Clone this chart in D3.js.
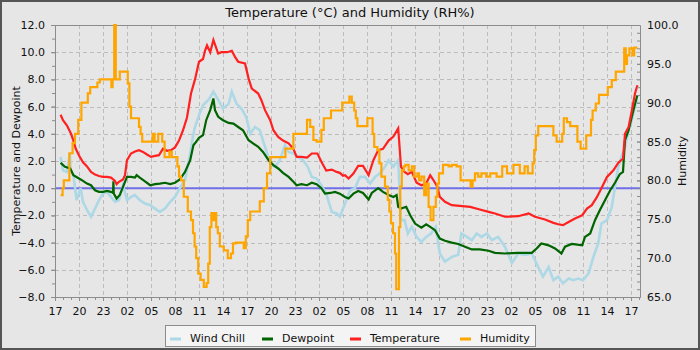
<!DOCTYPE html>
<html>
<head>
<meta charset="utf-8">
<script src="https://cdn.jsdelivr.net/npm/d3@7"></script>
<style>
  html, body { margin: 0; padding: 0; background: #e6e6e6; }
  svg { display: block; font-family: "DejaVu Sans", sans-serif; }
</style>
</head>
<body>
<svg id="chart" width="700" height="350"></svg>
<script>
// Hours elapsed since the first 17:00 tick, and readings per series.
const startHour = 17;
const xTickHours = d3.range(0, 73, 3);

const tempHours = [0.7,1.0,1.5,2.0,2.3,2.6,3.0,3.5,4.0,4.5,5.0,5.5,6.0,6.5,7.0,7.5,7.7,8.0,8.5,8.75,9.0,9.5,10,10.5,11,11.5,12,12.5,13,13.5,14,14.5,15,15.5,16,16.5,17,17.5,18,18.5,18.75,19,19.4,19.8,20.4,20.8,21.5,22.1,22.5,22.9,23.75,24.2,24.6,25.4,25.8,26.25,26.9,27.3,27.9,28.5,29.2,29.8,30.2,30.8,31.5,32.1,32.8,33.3,33.9,34.6,35.2,35.6,36.0,36.25,36.7,37.3,37.9,38.5,39.2,39.8,40.4,41.0,41.7,42.3,42.9,43.1,43.25,43.7,44.1,44.6,45.2,45.8,46.4,46.9,47.3,47.8,48.1,48.75,49.6,50.6,51.9,53.1,54.2,55.0,56.25,57.9,59.2,60.0,61.25,62.3,62.9,63.5,64.2,65.0,65.9,66.5,67.1,67.75,68.3,69.0,69.8,70.4,71.0,71.25,71.7,72.1,72.5,72.8];
const tempValues = [5.4,5.0,4.6,4.0,3.5,2.9,2.4,1.9,1.6,1.2,1.0,0.9,0.83,0.83,0.78,0.54,0.3,0.47,0.64,0.96,2.06,2.55,2.7,2.8,2.67,2.48,2.3,2.38,2.43,2.9,2.75,2.8,3.0,3.5,4.26,5.2,6.96,8.0,9.3,9.5,10.1,10.5,10.0,10.9,9.9,10.0,10.0,10.1,9.66,9.3,9.17,8.06,7.33,6.96,6.47,5.74,5.0,4.26,3.77,3.5,3.3,2.9,2.3,2.3,2.25,2.55,2.55,1.94,1.3,1.37,1.2,1.13,0.92,0.96,0.71,1.08,1.64,1.64,0.96,2.06,2.8,2.9,3.5,3.8,4.4,2.8,1.57,1.2,1.03,1.2,0.4,0.22,0.34,0.96,0.6,0.1,-0.64,-1.0,-1.25,-1.3,-1.37,-1.57,-1.74,-1.86,-2.1,-2.06,-1.86,-2.1,-2.3,-2.55,-2.65,-2.72,-2.48,-2.23,-1.99,-1.5,-1.25,-0.64,0.0,0.83,1.32,1.86,2.18,4.0,4.5,5.7,6.96,7.57];

const dewHours = [0.7,1.25,1.9,2.3,3.0,3.5,4.0,4.5,5.0,5.5,6.0,6.5,7.0,7.25,7.3,7.35,7.7,8.1,8.5,9.0,9.5,10,10.2,10.6,11.25,11.9,12.5,13.1,13.75,14.4,15,15.6,16.25,16.9,17.3,17.5,18.0,18.5,18.9,19.4,19.8,20.0,20.4,21.0,21.7,22.3,22.9,23.5,24.2,24.8,25.4,26.0,26.7,27.3,27.9,28.5,29.2,29.8,30.2,30.8,31.5,32.1,32.7,33.3,33.75,34.4,35.0,35.6,36.25,36.7,37.3,37.9,38.5,39.2,39.6,40.4,41.0,41.7,42.3,42.7,42.9,43.25,43.9,44.4,45.0,45.8,46.4,46.9,47.5,48.1,48.75,49.6,50.4,51.25,52.1,53.1,54.2,55,56.25,57.9,59.6,60.2,60.8,61.7,62.5,63.3,63.75,64.6,65.9,66.25,66.9,67.5,68.1,68.75,69.4,70.0,70.6,71.0,71.25,71.7,72.1,72.5,72.8];
const dewValues = [1.86,1.57,1.45,0.96,0.71,0.54,0.34,0.22,-0.15,-0.27,-0.27,-0.2,-0.27,-0.35,0.5,-0.4,-0.76,-0.5,0.1,0.83,0.83,0.78,0.96,0.78,0.51,0.22,0.3,0.34,0.4,0.3,0.4,0.64,1.2,2.06,3.16,3.3,3.7,3.9,5.0,5.74,6.6,5.74,5.25,5.0,4.8,4.75,4.5,4.26,3.53,3.28,3.04,2.67,2.06,1.7,1.45,1.13,0.83,0.47,0.22,0.3,0.22,0.4,0.3,0.0,-0.4,-0.35,-0.27,-0.4,-0.64,-0.76,-0.4,-0.2,-0.35,-0.83,-0.35,0.0,-0.27,-0.5,-0.64,-0.5,-1.37,-1.5,-1.37,-1.99,-2.6,-2.9,-2.65,-2.84,-3.09,-3.7,-3.87,-4.0,-4.1,-4.3,-4.5,-4.5,-4.6,-4.75,-4.8,-4.75,-4.75,-4.43,-4.07,-4.2,-4.43,-4.8,-4.3,-4.1,-4.2,-3.58,-3.33,-2.35,-1.62,-0.88,-0.15,0.4,1.03,1.2,3.53,4.26,5.25,6.2,6.84];

const chillHours = [0.7,1.0,1.5,1.85,1.95,2.3,2.7,3.2,3.5,4.0,4.5,5.0,5.5,6.0,6.5,7.0,7.5,8.0,8.5,9.0,9.5,10,10.6,11.25,11.9,12.5,13.1,13.75,14.4,15,15.6,16.25,16.9,17.3,17.5,18.0,18.5,19.2,19.8,20.4,21.0,21.7,22.1,22.7,23.3,23.9,24.4,25.0,25.6,26.25,26.9,27.5,28.1,28.75,29.2,29.8,30.4,31.0,31.6,32.1,32.7,33.3,33.9,34.6,35.2,35.6,36.25,36.9,37.5,38.1,38.75,39.4,40.0,40.6,41.25,41.7,42.3,42.9,43.1,43.25,43.7,44.1,44.6,45.2,45.8,46.4,47.0,47.6,48.1,48.75,49.6,50.4,50.8,51.5,52.1,52.7,53.3,54.0,54.6,55.4,56.25,57.1,57.9,58.75,59.6,60.4,61.0,61.7,62.3,62.9,63.5,64.2,64.8,65.4,66.0,66.7,67.3,67.9,68.3,69.0,69.6,70.0,70.4,70.8,71.25,71.7,72.1,72.5,72.8];
const chillValues = [2.3,1.32,1.2,2.55,1.4,0.96,-0.88,0.0,-1.0,-1.6,-2.1,-1.5,-0.88,-0.4,-0.27,-0.64,-1.0,-0.88,0.22,-0.88,-0.64,-0.5,-0.88,-1.13,-1.25,-1.5,-1.74,-1.5,-1.0,-0.64,0.0,0.6,2.55,4.0,4.5,5.37,6.1,6.5,7.1,6.5,5.86,6.2,7.1,6.2,5.86,5.25,4.0,4.5,4.26,3.04,1.81,1.57,2.06,3.16,2.67,2.55,2.3,2.06,1.57,0.83,0.71,0.22,-0.4,-1.74,-1.86,-2.1,-1.13,-0.15,0.0,0.83,0.83,0.34,0.83,1.08,1.57,2.06,1.57,2.06,-0.4,-2.35,-2.35,-3.33,-2.84,-3.58,-3.95,-3.58,-3.33,-2.84,-4.8,-5.4,-5.05,-4.9,-3.33,-3.58,-3.82,-3.33,-3.58,-3.33,-3.82,-3.58,-4.3,-5.5,-4.8,-4.9,-4.8,-5.8,-6.5,-5.8,-6.76,-6.5,-7.0,-6.64,-6.76,-6.64,-6.76,-6.27,-5.05,-4.07,-2.6,-2.35,-1.37,0.1,1.57,2.3,3.04,4.26,5.0,6.0,6.47];

const humHours = [0.7,0.95,1.1,1.8,2.2,2.5,2.9,3.3,4.1,4.4,5.3,5.6,7.05,7.2,7.4,7.6,8.1,9.1,9.3,9.5,10.5,10.7,10.9,12.2,12.45,12.9,13.4,13.7,14.3,14.6,15.3,15.5,15.75,16.1,16.6,17.0,17.25,17.45,17.65,17.9,18.2,18.6,18.95,19.15,19.35,19.55,19.75,19.95,20.15,20.35,20.6,21.1,21.6,22.0,22.25,22.6,23.6,23.85,24.1,24.4,25.6,26.1,26.5,26.9,28.8,29.8,31.5,31.9,32.3,32.7,33.3,33.6,34.5,35.9,36.8,37.1,37.4,37.6,37.8,39.05,39.7,39.9,40.3,40.55,40.8,41.25,41.6,41.8,42.0,42.25,42.5,42.65,43.0,43.15,43.35,43.6,43.8,44.2,44.6,44.9,45.3,45.5,45.8,46.15,46.4,46.7,46.95,47.3,47.6,47.8,48.0,48.5,49.2,49.6,50.2,50.7,51.95,52.2,52.5,52.9,53.3,53.9,54.4,55.2,55.9,56.5,57.3,58.1,58.7,59.1,59.7,59.9,60.1,60.4,62.3,62.7,63.4,63.6,64.0,64.4,65.3,65.7,66.4,67.0,67.2,67.6,68.0,69.1,69.6,70.1,71.15,71.35,71.5,71.8,72.2,72.4,72.8];
const humValues = [78.1,79.0,80.0,83.5,84.8,86.0,87.8,90.0,91.2,92.0,92.6,93.0,92.0,93.0,100,93.0,94.0,92.5,89.5,88.0,86.9,86.0,85.0,86.0,85.0,86.0,85.0,83.0,83.7,83.0,81.8,80.5,80.0,77.9,76.0,74.9,73.2,71.5,70.0,68.0,67.2,66.3,66.8,69.3,74.0,75.8,74.9,75.8,74.0,73.2,71.5,71.0,70.0,70.6,71.9,72.0,71.3,72.8,74.9,76.0,77.3,79.0,80.9,83.0,84.1,86.0,87.8,86.9,85.2,85.0,86.5,88.0,89.0,90.0,90.8,90.0,89.0,88.0,87.0,88.0,86.0,84.3,83.9,82.2,80.5,79.2,77.5,76.0,74.5,73.2,70.6,66.0,74.0,79.2,81.3,81.8,82.0,81.3,81.8,80.5,80.9,80.0,80.5,78.1,79.6,76.6,74.9,76.6,77.9,79.6,80.9,82.0,81.8,82.0,81.8,80.0,79.2,80.0,80.9,80.5,80.9,80.5,80.9,80.5,81.8,80.9,82.0,80.9,81.8,80.9,82.2,83.9,85.8,87.0,85.8,85.0,86.0,88.0,87.5,87.0,85.0,84.1,85.8,87.8,89.0,89.9,91.0,92.0,92.9,94.0,97.0,95.0,96.1,97.0,96.1,97.1,97.1];

const leftTicks = d3.range(-8, 12.01, 2);
const rightTicks = d3.range(65, 100.01, 5);

const series = [
  { name: "Wind Chill",  color: "#add8e6", width: 2.6, hours: chillHours, values: chillValues, axis: "temp", curve: d3.curveLinear },
  { name: "Dewpoint",    color: "#006400", width: 2.2, hours: dewHours,   values: dewValues,   axis: "temp", curve: d3.curveLinear },
  { name: "Temperature", color: "#ff2020", width: 2.2, hours: tempHours,  values: tempValues,  axis: "temp", curve: d3.curveLinear },
  { name: "Humidity",    color: "#ffa500", width: 2.2, hours: humHours,   values: humValues,   axis: "hum",  curve: d3.curveStepAfter }
];

const svg = d3.select("#chart");
const W = 700, H = 350;
const plot = { left: 55, right: 640, top: 25, bottom: 297 };

const x = d3.scaleLinear().domain([0, 73.125]).range([plot.left, plot.right]);
const yT = d3.scaleLinear().domain([-8, 12]).range([plot.bottom, plot.top]);
const yH = d3.scaleLinear().domain([65, 100]).range([plot.bottom, plot.top]);

// background and frame
svg.append("rect").attr("x", 0).attr("y", 0).attr("width", W).attr("height", H).attr("fill", "#e6e6e6");
svg.append("rect").attr("x", 1).attr("y", 1).attr("width", W - 2).attr("height", H - 2)
  .attr("fill", "none").attr("stroke", "#555").attr("stroke-width", 2);

// title
svg.append("text").attr("x", 350).attr("y", 16.5).attr("text-anchor", "middle")
  .attr("font-size", 13).attr("fill", "#111").text("Temperature (°C) and Humidity (RH%)");

// grid
const grid = svg.append("g").attr("stroke", "#bcbcbc").attr("stroke-width", 1).attr("stroke-dasharray", "4,3");
grid.selectAll("line.v").data(xTickHours.filter(h => h > 0)).join("line").attr("class", "v")
  .attr("x1", d => Math.round(x(d)) + 0.5).attr("x2", d => Math.round(x(d)) + 0.5)
  .attr("y1", plot.top).attr("y2", plot.bottom);
grid.selectAll("line.h").data(leftTicks.filter(v => v > -8 && v < 12)).join("line").attr("class", "h")
  .attr("x1", plot.left).attr("x2", plot.right)
  .attr("y1", d => Math.round(yT(d)) + 0.5).attr("y2", d => Math.round(yT(d)) + 0.5);

// plot border (top)
svg.append("line").attr("x1", plot.left).attr("x2", plot.right).attr("y1", plot.top + 0.5).attr("y2", plot.top + 0.5)
  .attr("stroke", "#8c8c8c");

// zero reference line
svg.append("line").attr("x1", plot.left).attr("x2", plot.right)
  .attr("y1", yT(0)).attr("y2", yT(0))
  .attr("stroke", "#6f6fe8").attr("stroke-width", 2);

// series
const lines = svg.append("g");
series.forEach(s => {
  const yS = s.axis === "temp" ? yT : yH;
  const pts = s.hours.map((h, i) => [h, s.values[i]]);
  const gen = d3.line().x(d => x(d[0])).y(d => yS(d[1])).curve(s.curve);
  lines.append("path").datum(pts).attr("d", gen)
    .attr("fill", "none").attr("stroke", s.color).attr("stroke-width", s.width)
    .attr("stroke-linejoin", "miter").attr("stroke-linecap", "butt");
});

// axes
const axisColor = "#8c8c8c";
function styleAxis(g) {
  g.selectAll(".domain").attr("stroke", axisColor);
  g.selectAll(".tick line").attr("stroke", axisColor);
  g.selectAll("text").attr("fill", "#111").attr("font-size", 11).attr("font-family", "DejaVu Sans, sans-serif");
}

const hourLabel = h => String((startHour + h) % 24).padStart(2, "0");

// bottom axis, minor then major
svg.append("g").attr("transform", `translate(0,${plot.bottom})`)
  .call(d3.axisBottom(x).tickValues(d3.range(0, 73.1, 1)).tickFormat("").tickSize(3).tickSizeOuter(0))
  .call(styleAxis);
svg.append("g").attr("transform", `translate(0,${plot.bottom})`)
  .call(d3.axisBottom(x).tickValues(xTickHours).tickFormat(hourLabel).tickSize(4).tickPadding(6).tickSizeOuter(0))
  .call(styleAxis);

// left axis
svg.append("g").attr("transform", `translate(${plot.left},0)`)
  .call(d3.axisLeft(yT).tickValues(d3.range(-8, 12.01, 1)).tickFormat("").tickSize(3).tickSizeOuter(0))
  .call(styleAxis);
svg.append("g").attr("transform", `translate(${plot.left},0)`)
  .call(d3.axisLeft(yT).tickValues(leftTicks).tickFormat(d3.format(".1f")).tickSize(4).tickPadding(6).tickSizeOuter(0))
  .call(styleAxis);

// right axis, ticks pointing into the plot
svg.append("g").attr("transform", `translate(${plot.right},0)`)
  .call(d3.axisRight(yH).tickValues(d3.range(65, 100.01, 1)).tickFormat("").tickSize(-3).tickSizeOuter(0))
  .call(styleAxis);
svg.append("g").attr("transform", `translate(${plot.right},0)`)
  .call(d3.axisRight(yH).tickValues(rightTicks).tickFormat(d3.format(".1f")).tickSize(-3).tickPadding(7).tickSizeOuter(0))
  .call(styleAxis);

// axis titles
svg.append("text").attr("transform", "translate(20,161) rotate(-90)").attr("text-anchor", "middle")
  .attr("font-size", 11).attr("fill", "#111").text("Temperature and Dewpoint");
svg.append("text").attr("transform", "translate(686,161) rotate(-90)").attr("text-anchor", "middle")
  .attr("font-size", 11).attr("fill", "#111").text("Humidity");

// legend
const legend = svg.append("g");
legend.append("rect").attr("x", 165.5).attr("y", 325.5).attr("width", 370).attr("height", 21)
  .attr("fill", "#f4f4f4").attr("stroke", "#8c8c8c");
const legendPos = [170, 262, 350, 460];
series.forEach((s, i) => {
  const lx = legendPos[i];
  legend.append("line").attr("x1", lx).attr("x2", lx + 11).attr("y1", 339).attr("y2", 339)
    .attr("stroke", s.color).attr("stroke-width", 3);
  legend.append("text").attr("x", lx + 20).attr("y", 341.5).attr("font-size", 11).attr("fill", "#111").text(s.name);
});
</script>
</body>
</html>
